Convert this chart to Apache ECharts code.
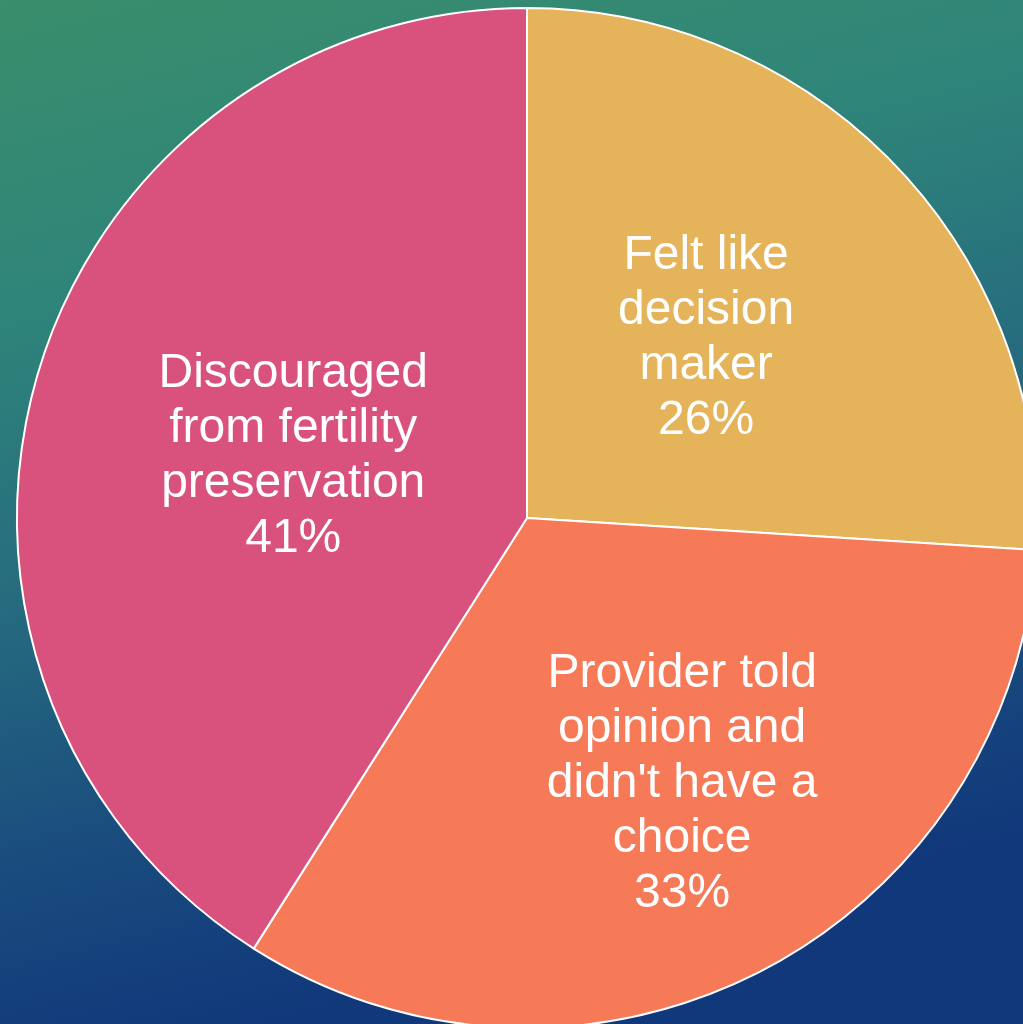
<!DOCTYPE html>
<html>
<head>
<meta charset="utf-8">
<title>Fertility preservation decision</title>
<script src="https://cdn.jsdelivr.net/npm/echarts@6/dist/echarts.min.js"></script>
<style>
  html, body { margin: 0; padding: 0; width: 100%; height: 100%; overflow: hidden; }
  #chart { width: 1023px; height: 1024px; }
</style>
</head>
<body>
<div id="chart"></div>
<script>
// Slice names as shown on the chart (with their line breaks) and their shares in percent
const categories = [
  'Felt like\ndecision\nmaker',
  "Provider told\nopinion and\ndidn't have a\nchoice",
  'Discouraged\nfrom fertility\npreservation'
];
const shares = [26, 33, 41];
const sliceColors = ['#E5B35A', '#F67A58', '#D9527E'];
// Nudges for each label away from the default inside position
const labelNudge = [[-9, -3], [38, 36], [14, 10]];

const chart = echarts.init(document.getElementById('chart'), null, { renderer: 'canvas' });

chart.setOption({
  animation: false,
  backgroundColor: {
    type: 'linear', x: 0, y: 0, x2: 0.25, y2: 1,
    colorStops: [
      { offset: 0, color: '#3A8E6C' },
      { offset: 0.3, color: '#2E847A' },
      { offset: 0.55, color: '#266C7E' },
      { offset: 0.8, color: '#1A4C7E' },
      { offset: 1, color: '#10387A' }
    ]
  },
  series: [{
    type: 'pie',
    center: [527, 518],
    radius: 510,
    startAngle: 90,
    clockwise: true,
    silent: true,
    avoidLabelOverlap: false,
    itemStyle: { borderColor: '#FFFFFF', borderWidth: 2 },
    label: {
      show: true,
      position: 'inside',
      color: '#FFFFFF',
      fontFamily: '"Liberation Sans", Arial, sans-serif',
      fontSize: 48,
      lineHeight: 55,
      align: 'center',
      formatter: p => p.name + '\n' + p.value + '%'
    },
    labelLine: { show: false },
    data: categories.map((name, i) => ({
      name: name,
      value: shares[i],
      itemStyle: { color: sliceColors[i] },
      label: { offset: labelNudge[i] }
    }))
  }]
});
</script>
</body>
</html>
